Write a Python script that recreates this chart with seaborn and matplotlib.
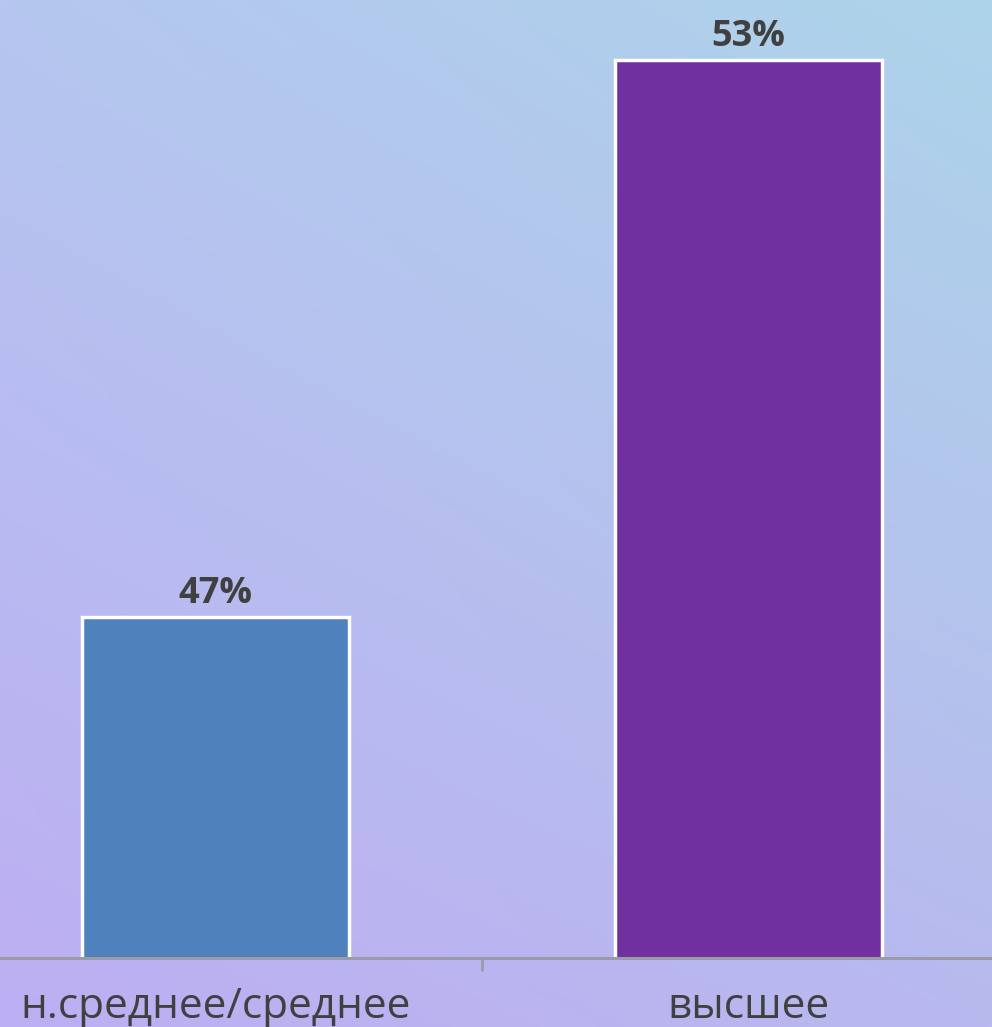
import numpy as np
import pandas as pd
import matplotlib
matplotlib.use("Agg")
import matplotlib.pyplot as plt
from matplotlib.colors import to_rgb
import seaborn as sns

# ── Data ───────────────────────────────────────────────────────────────────────
categories = ["н.среднее/среднее", "высшее"]
values     = [47, 53]
colours    = ["#4F81BD", "#7030A0"]

# ── Style ──────────────────────────────────────────────────────────────────────
sns.set_theme(style="white")
plt.rcParams["font.family"] = ["Open Sans", "DejaVu Sans"]

TEXT_COL = "#404040"
AXIS_COL = "#9A9AA8"

fig = plt.figure(figsize=(9.92, 10.27), dpi=100)

# background gradient (corner colours)
bg = fig.add_axes([0, 0, 1, 1], zorder=0)
tl, tr = np.array(to_rgb("#B5C6EF")), np.array(to_rgb("#ADD4EA"))
bl, br = np.array(to_rgb("#BDAEF3")), np.array(to_rgb("#B8B9EE"))
u = np.linspace(0, 1, 200)[None, :, None]
v = np.linspace(0, 1, 200)[:, None, None]
grad = (1 - v) * ((1 - u) * tl + u * tr) + v * ((1 - u) * bl + u * br)
bg.imshow(grad, aspect="auto", extent=[0, 1, 0, 1])
bg.axis("off")

ax = fig.add_axes([0, 0.0672, 1, 0.9328], zorder=1)
ax.patch.set_alpha(0)

df = pd.DataFrame({"cat": categories, "val": values})
sns.barplot(data=df, x="cat", y="val", hue="cat", palette=colours,
            saturation=1, width=0.5, edgecolor="white", linewidth=2.5,
            legend=False, ax=ax)

for i, val in enumerate(values):
    ax.text(i, val + 0.06, f"{val}%", ha="center", va="bottom",
            fontsize=26, fontweight="bold", color=TEXT_COL)

ax.set_xlim(-0.404, 1.457)
ax.set_ylim(43.33, 53.65)
ax.set_xlabel("")
ax.set_ylabel("")
ax.set_yticks([])

for s in ["top", "right", "left"]:
    ax.spines[s].set_visible(False)
ax.spines["bottom"].set_color(AXIS_COL)
ax.spines["bottom"].set_linewidth(2.2)

ax.tick_params(axis="x", which="major", length=0, pad=20,
               labelsize=30.5, labelcolor=TEXT_COL)
ax.set_xticks([0.5], minor=True)
ax.tick_params(axis="x", which="minor", length=9, width=2, color=AXIS_COL,
               bottom=True)

fig.savefig("out.png", dpi=100)
